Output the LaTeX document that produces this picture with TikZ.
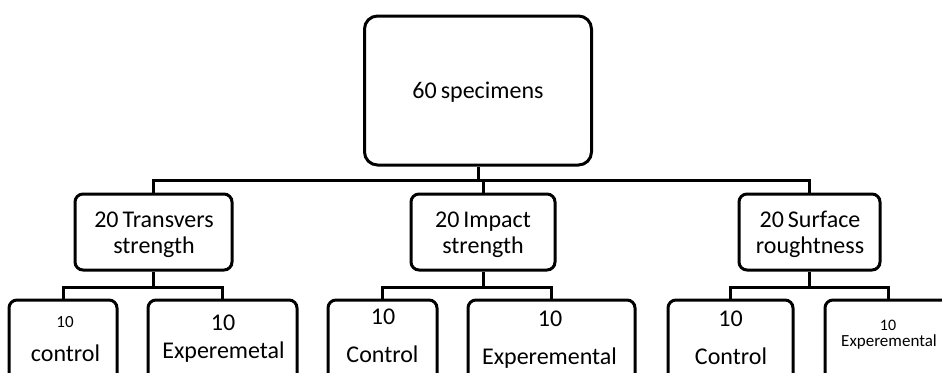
\documentclass[tikz,border=0pt]{standalone}
\usepackage{fontspec}
\setmainfont{Carlito}
\tikzset{
  box/.style={draw, line width=3pt, rounded corners=8pt, inner sep=0pt, fill=white},
  bigbox/.style={box, rounded corners=13pt},
  conn/.style={line width=3pt},
  txt/.style={anchor=base, inner sep=0pt, font=\fontsize{24}{27}\selectfont},
  smalltxt/.style={anchor=base, inner sep=0pt, font=\fontsize{17}{20}\selectfont}
}
\begin{document}
\begin{tikzpicture}[x=1pt,y=-1pt]
\useasboundingbox (0,0) rectangle (942,372);
\fill[white] (0,0) rectangle (942,372);
\clip (0,0) rectangle (942,372);

% top
\node[bigbox, minimum width=227pt, minimum height=149pt] (top) at (478,90.5) {};
\node[txt] (ttop) at (478,98) {60\,specimens};

% row 2
\node[box, minimum width=157pt, minimum height=76pt] (L) at (153.5,232) {};
\node[box, minimum width=144pt, minimum height=76pt] (M) at (483,232) {};
\node[box, minimum width=141pt, minimum height=76pt] (R) at (809.5,232) {};
\node[txt] (tL1) at (154,227) {20\,Transvers};
\node[txt] (tL2) at (154,253) {strength};
\node[txt] (tM1) at (483,227) {20\,Impact};
\node[txt] (tM2) at (483,253) {strength};
\node[txt] (tR1) at (810,227) {20\,Surface};
\node[txt] (tR2) at (810,253) {roughtness};

% row 3
\node[box, minimum width=108pt, minimum height=100pt] (b1) at (63,350) {};
\node[box, minimum width=149pt, minimum height=100pt] (b2) at (222.5,350) {};
\node[box, minimum width=109pt, minimum height=100pt] (b3) at (382.5,350) {};
\node[box, minimum width=167pt, minimum height=100pt] (b4) at (551.5,350) {};
\node[box, minimum width=125pt, minimum height=100pt] (b5) at (730.5,350) {};
\node[box, minimum width=126pt, minimum height=100pt] (b6) at (888,350) {};

\node[smalltxt] (t1a) at (65,327) {10};
\node[txt] (t1b) at (65.5,361) {control};
\node[txt] (t2a) at (223,330) {10};
\node[txt] (t2b) at (223.5,358) {Experemetal};
\node[txt] (t3a) at (383,324) {10};
\node[txt] (t3b) at (382.5,362) {Control};
\node[txt] (t4a) at (550,326) {10};
\node[txt] (t4b) at (549.5,364) {Experemental};
\node[txt] (t5a) at (730.5,326) {10};
\node[txt] (t5b) at (731,364) {Control};
\node[anchor=base, inner sep=0pt, font=\fontsize{16}{18}\selectfont] (t6a) at (888,330) {10};
\node[anchor=base, inner sep=0pt, font=\fontsize{17}{19}\selectfont] (t6b) at (889,346) {Experemental};

% connectors
\coordinate (busT) at (478,180);
\coordinate (busL) at (153.5,287);
\coordinate (busM) at (483,287);
\coordinate (busR) at (809.5,287);

\draw[conn] (top.south) -- (top.south |- busT);
\draw[conn] (L.north) |- (busT) -| (R.north);
\draw[conn] (M.north) -- (M.north |- busT);

\draw[conn] (L.south) -- (busL);
\draw[conn] (b1.north) |- (busL) -| (b2.north);
\draw[conn] (M.south) -- (busM);
\draw[conn] (b3.north) |- (busM) -| (b4.north);
\draw[conn] (R.south) -- (busR);
\draw[conn] (b5.north) |- (busR) -| (b6.north);
\end{tikzpicture}
\end{document}
